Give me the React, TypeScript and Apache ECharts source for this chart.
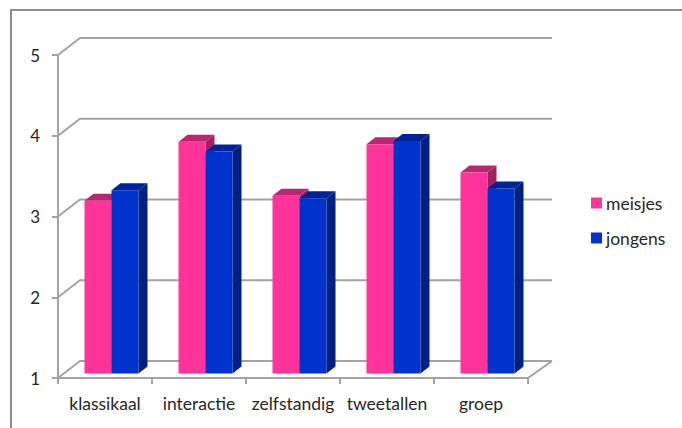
import React, { useEffect, useRef } from "react";
import * as echarts from "echarts";

const categories = ["klassikaal", "interactie", "zelfstandig", "tweetallen", "groep"];
const meisjes = [3.14, 3.87, 3.2, 3.84, 3.49];
const jongens = [3.27, 3.75, 3.17, 3.88, 3.29];
const wallTicks = [1, 2, 3, 4, 5];

const FONT = "Lato";
const TEXT = "#262626";
const AXIS = "#A3A3A3";
const WALL_DX = 22;
const WALL_DY = 17;
const BAR_W = 27;
const BAR_DX = 9;
const BAR_DY = 7;
const BAR_SHIFT_X = 6.5;
const BAR_SHIFT_Y = 4.5;

function barSeries(name: string, data: number[], side: number, c: { front: string; top: string; side: string }) {
  return {
    name,
    type: "custom",
    z: 3,
    clip: false,
    itemStyle: { color: c.front },
    encode: { x: 0, y: 1 },
    data: data.map((v, i) => [i, v]),
    renderItem: (_p: any, api: any) => {
      const i = api.value(0);
      const v = api.value(1);
      const top = api.coord([i, v]);
      const base = api.coord([i, 1]);
      const cx = top[0] + BAR_SHIFT_X;
      const x0 = side < 0 ? cx - BAR_W : cx;
      const x1 = x0 + BAR_W;
      const yT = base[1] - BAR_SHIFT_Y - (base[1] - top[1]);
      const yB = base[1] - BAR_SHIFT_Y;
      return {
        type: "group",
        children: [
          {
            type: "polygon",
            shape: { points: [[x1, yT], [x1 + BAR_DX, yT - BAR_DY], [x1 + BAR_DX, yB - BAR_DY], [x1, yB]] },
            style: { fill: c.side },
          },
          {
            type: "polygon",
            shape: { points: [[x0, yT], [x0 + BAR_DX, yT - BAR_DY], [x1 + BAR_DX, yT - BAR_DY], [x1, yT]] },
            style: { fill: c.top },
          },
          { type: "rect", shape: { x: x0, y: yT, width: BAR_W, height: yB - yT }, style: { fill: c.front } },
        ],
      };
    },
  };
}

export default function App() {
  const ref = useRef<HTMLDivElement>(null);
  useEffect(() => {
    document.body.style.margin = "0";
    const chart = echarts.init(ref.current!, null, { renderer: "svg" });
    chart.setOption({
      animation: false,
      backgroundColor: "#fff",
      textStyle: { fontFamily: FONT },
      grid: { left: 58, top: 55, width: 470, height: 323 },
      legend: {
        orient: "vertical",
        left: 586,
        top: 189,
        itemWidth: 11,
        itemHeight: 11,
        itemGap: 17,
        icon: "rect",
        data: ["meisjes", "jongens"],
        textStyle: { fontFamily: FONT, fontSize: 17.5, color: TEXT, padding: [0, 0, 0, -1] },
      },
      xAxis: {
        type: "category",
        data: categories,
        axisLine: { lineStyle: { color: AXIS, width: 2 } },
        axisTick: { show: true, interval: 0, alignWithLabel: false, length: 6, lineStyle: { color: AXIS, width: 2 } },
        axisLabel: { fontFamily: FONT, fontSize: 17.5, color: TEXT, margin: 16, interval: 0 },
        splitLine: { show: false },
      },
      yAxis: {
        type: "value",
        min: 1,
        max: 5,
        interval: 1,
        axisLine: { show: true, lineStyle: { color: AXIS, width: 2 } },
        axisTick: { show: true, length: 6, lineStyle: { color: AXIS, width: 2 } },
        axisLabel: { fontFamily: FONT, fontSize: 17, color: TEXT, margin: 18 },
        splitLine: { show: false },
      },
      graphic: [
        {
          type: "polyline",
          silent: true,
          shape: { points: [[11, 428], [11, 10], [682, 10]] },
          style: { stroke: "#8C8C8C", lineWidth: 2, fill: "none" },
        },
      ],
      series: [
        {
          type: "custom",
          name: "wall",
          z: 1,
          clip: false,
          encode: { y: 0 },
          data: wallTicks.map((t) => [t]),
          renderItem: (p: any, api: any) => {
            const y = api.coord([0, api.value(0)])[1];
            const x0 = p.coordSys.x;
            const x1 = x0 + p.coordSys.width;
            const children: any[] = [
              {
                type: "polyline",
                shape: { points: [[x0, y], [x0 + WALL_DX, y - WALL_DY], [x1 + WALL_DX + 2, y - WALL_DY]] },
                style: { stroke: AXIS, lineWidth: 2, fill: "none" },
              },
            ];
            if (api.value(0) === wallTicks[0]) {
              children.push({
                type: "line",
                shape: { x1, y1: y, x2: x1 + WALL_DX + 2, y2: y - WALL_DY },
                style: { stroke: AXIS, lineWidth: 2 },
              });
            }
            return { type: "group", children };
          },
        },
        barSeries("meisjes", meisjes, -1, { front: "#FF3399", top: "#BC2671", side: "#A02060" }),
        barSeries("jongens", jongens, 1, { front: "#0033CC", top: "#00239C", side: "#002080" }),
      ],
    });
    return () => chart.dispose();
  }, []);
  return <div ref={ref} style={{ width: 682, height: 428 }} />;
}
